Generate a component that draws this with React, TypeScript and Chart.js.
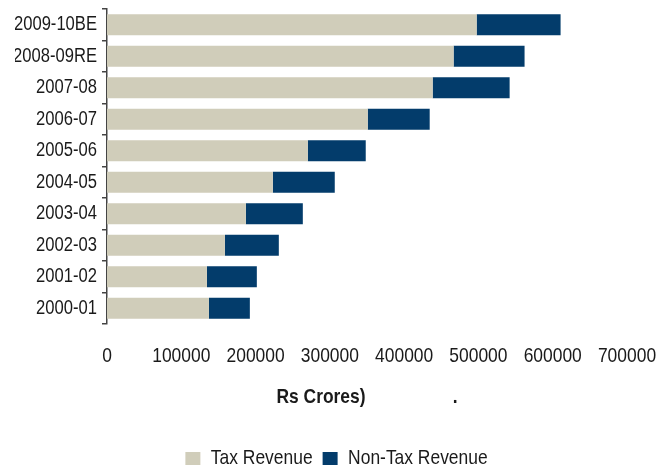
import React, { useEffect, useRef } from "react";
import { Chart, registerables } from "chart.js";

Chart.register(...registerables);

const categories = [
  "2009-10BE",
  "2008-09RE",
  "2007-08",
  "2006-07",
  "2005-06",
  "2004-05",
  "2003-04",
  "2002-03",
  "2001-02",
  "2000-01",
];
const taxRevenue = [497600, 466600, 438400, 351000, 270300, 223200, 186900, 158700, 134500, 137200];
const nonTaxRevenue = [113000, 95500, 103600, 83400, 78000, 83400, 76700, 72600, 67200, 55100];
const xMin = 0;
const xMax = 700000;
const xStep = 100000;
const seriesNames = ["Tax Revenue", "Non-Tax Revenue"];
const axisTitle = "Rs Crores)                  .";

const FONT = "'Liberation Sans', Arial, sans-serif";
const TEXT = "#1a1a1a";
const NARROW = 0.83; // horizontal text compression to imitate a condensed face

export default function App() {
  const ref = useRef<HTMLCanvasElement | null>(null);

  useEffect(() => {
    document.body.style.margin = "0";
    const canvas = ref.current;
    if (!canvas) return;
    const ctx = canvas.getContext("2d") as any;
    const origMeasure = ctx.measureText.bind(ctx);
    const origFill = ctx.fillText.bind(ctx);
    ctx.measureText = (t: string) => {
      const m = origMeasure(t);
      return {
        width: m.width * NARROW,
        actualBoundingBoxAscent: m.actualBoundingBoxAscent,
        actualBoundingBoxDescent: m.actualBoundingBoxDescent,
        actualBoundingBoxLeft: m.actualBoundingBoxLeft * NARROW,
        actualBoundingBoxRight: m.actualBoundingBoxRight * NARROW,
        fontBoundingBoxAscent: m.fontBoundingBoxAscent,
        fontBoundingBoxDescent: m.fontBoundingBoxDescent,
      };
    };
    ctx.fillText = (t: string, x: number, y: number, maxWidth?: number) => {
      const w = origMeasure(t).width * NARROW;
      const mw = maxWidth !== undefined && maxWidth !== null ? Math.min(maxWidth, w) : w;
      origFill(t, x, y, Math.max(mw, 0.01));
    };

    const chart = new Chart(canvas, {
      type: "bar",
      data: {
        labels: categories,
        datasets: [
          {
            label: seriesNames[0],
            data: taxRevenue,
            backgroundColor: "#d0cdba",
            borderWidth: 0,
            barPercentage: 0.667,
            categoryPercentage: 1,
          },
          {
            label: seriesNames[1],
            data: nonTaxRevenue,
            backgroundColor: "#033c6b",
            borderWidth: 0,
            barPercentage: 0.667,
            categoryPercentage: 1,
          },
        ],
      },
      options: {
        indexAxis: "y",
        responsive: false,
        animation: false,
        layout: { padding: { left: 15, right: 0, top: 9, bottom: 0 } },
        plugins: {
          tooltip: { enabled: false },
          legend: {
            position: "bottom",
            labels: {
              font: { family: FONT, size: 21 },
              color: TEXT,
              boxWidth: 15,
              boxHeight: 13,
              padding: 10,
            },
          },
        },
        scales: {
          x: {
            stacked: true,
            min: xMin,
            max: xMax,
            grid: { display: false },
            border: { display: false },
            ticks: {
              stepSize: xStep,
              padding: 12,
              color: TEXT,
              font: { family: FONT, size: 21 },
              maxRotation: 0,
              autoSkip: false,
              callback: (v: any) => String(v),
            },
            title: {
              display: true,
              text: axisTitle,
              color: TEXT,
              font: { family: FONT, size: 21, weight: "bold" },
              padding: { top: 0, bottom: 28 },
            },
            afterFit: (scale: any) => {
              scale.height = 114;
              scale.paddingRight = 31;
              scale.paddingLeft = 0;
            },
          },
          y: {
            stacked: true,
            grid: {
              display: true,
              drawOnChartArea: false,
              drawTicks: true,
              tickLength: 5,
              color: "#444444",
              lineWidth: 1.5,
              offset: true,
            },
            border: { display: true, color: "#444444", width: 1.5 },
            ticks: {
              padding: 5,
              color: TEXT,
              font: { family: FONT, size: 20 },
              autoSkip: false,
            },
            afterFit: (scale: any) => {
              scale.width = 92;
              scale.paddingTop = 0;
              scale.paddingBottom = 0;
            },
          },
        },
      },
    });
    return () => chart.destroy();
  }, []);

  return (
    <div style={{ position: "fixed", left: 0, top: 0, width: 658, height: 471, overflow: "hidden", background: "#fff" }}>
      <canvas ref={ref} width={658} height={479} style={{ display: "block" }} />
    </div>
  );
}
